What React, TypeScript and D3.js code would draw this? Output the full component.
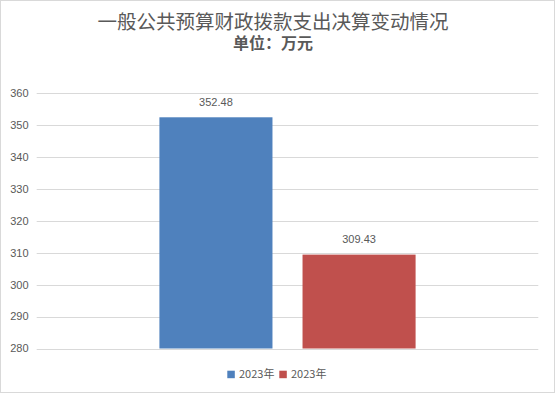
import React from "react";
import * as d3 from "d3";

const categories = ["一般公共预算财政拨款支出"];
const seriesNames = ["2023年", "2023年"];
const seriesValues = [352.48, 309.43];
const seriesColors = ["#4F81BD", "#C0504D"];
const yTicks = [280, 290, 300, 310, 320, 330, 340, 350, 360];
const titleText = "一般公共预算财政拨款支出决算变动情况";
const subtitleText = "单位：万元";

const W = 556;
const H = 394;
const plot = { left: 36.7, right: 538.3, top: 93.3, bottom: 348.5 };
const textColor = "#595959";
const numFont = "'Liberation Sans', Arial, sans-serif";
const cjkFont = "'Noto Sans CJK SC', 'Liberation Sans', sans-serif";

export default function App() {
  const y = d3.scaleLinear().domain([280, 360]).range([plot.bottom, plot.top]);
  const x0 = d3
    .scaleBand<string>()
    .domain(categories)
    .range([plot.left, plot.right])
    .paddingInner(0)
    .paddingOuter(0.479);
  const keys = seriesValues.map((_, i) => String(i));
  const x1 = d3
    .scaleBand<string>()
    .domain(keys)
    .range([0, x0.bandwidth()])
    .paddingInner(0.21)
    .paddingOuter(0);

  const legendItems = [
    { sq: 227.3, tx: 239 },
    { sq: 279.3, tx: 291 },
  ];

  return (
    <svg
      width={W}
      height={H}
      style={{ position: "absolute", left: 0, top: 0, display: "block" }}
    >
      <rect x={0} y={0} width={W} height={H} fill="#ffffff" />
      <rect
        x={0.5}
        y={0.5}
        width={554}
        height={392}
        fill="#ffffff"
        stroke="#d9d9d9"
        strokeWidth={1}
      />
      <text
        x={273}
        y={28.5}
        textAnchor="middle"
        fontFamily={cjkFont}
        fontSize={19.5}
        fill={textColor}
      >
        {titleText}
      </text>
      <text
        x={273}
        y={48.5}
        textAnchor="middle"
        fontFamily={cjkFont}
        fontSize={16}
        fontWeight="bold"
        fill={textColor}
      >
        {subtitleText}
      </text>
      {yTicks.map((t) => (
        <g key={t}>
          <line
            x1={plot.left}
            x2={plot.right}
            y1={Math.round(y(t)) + 0.5}
            y2={Math.round(y(t)) + 0.5}
            stroke="#d9d9d9"
            strokeWidth={1}
          />
          <text
            x={28.5}
            y={y(t)}
            dy="0.35em"
            textAnchor="end"
            fontFamily={numFont}
            fontSize={11}
            fill={textColor}
          >
            {t}
          </text>
        </g>
      ))}
      {categories.map((c) => (
        <g key={c} transform={`translate(${x0(c)},0)`}>
          {seriesValues.map((v, i) => {
            const bx = x1(String(i)) as number;
            const bw = x1.bandwidth();
            return (
              <g key={i}>
                <rect
                  x={bx}
                  y={y(v)}
                  width={bw}
                  height={y(280) - y(v)}
                  fill={seriesColors[i]}
                />
                <text
                  x={bx + bw / 2}
                  y={y(v) - 15.5}
                  dy="0.35em"
                  textAnchor="middle"
                  fontFamily={numFont}
                  fontSize={11}
                  fill={textColor}
                >
                  {v.toFixed(2)}
                </text>
              </g>
            );
          })}
        </g>
      ))}
      {seriesNames.map((n, i) => (
        <g key={i}>
          <rect
            x={legendItems[i].sq}
            y={370.7}
            width={7.5}
            height={7.5}
            fill={seriesColors[i]}
          />
          <text
            x={legendItems[i].tx}
            y={374.5}
            dy="0.35em"
            fontFamily={cjkFont}
            fontSize={11}
            fill={textColor}
          >
            {n}
          </text>
        </g>
      ))}
    </svg>
  );
}
